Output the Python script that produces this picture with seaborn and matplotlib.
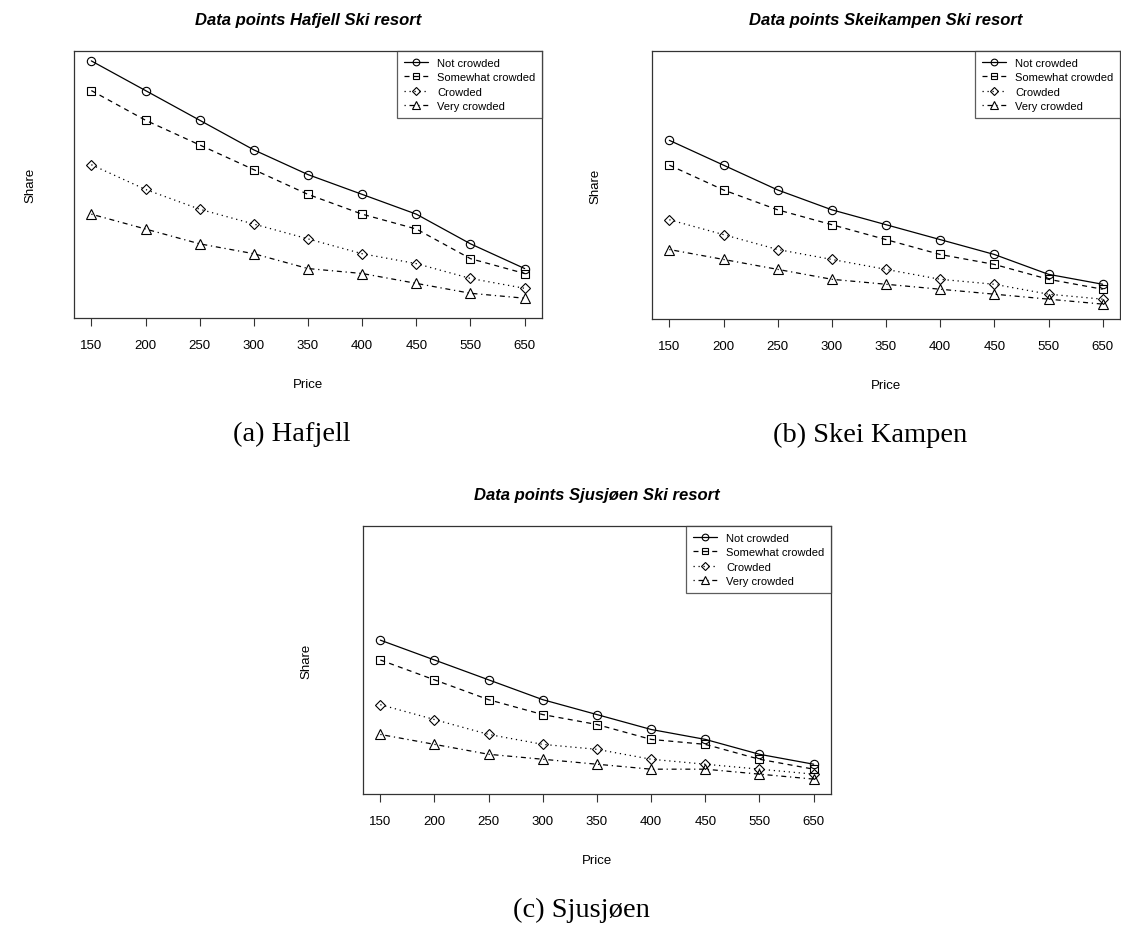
import pandas as pd
import matplotlib
matplotlib.use('Agg')
import matplotlib.pyplot as plt
import seaborn as sns

# price levels (equally spaced categories on the x axis)
prices = ['150', '200', '250', '300', '350', '400', '450', '550', '650']
crowding = ['Not crowded', 'Somewhat crowded', 'Crowded', 'Very crowded']

# Hafjell
hafjell_not = [0.50, 0.44, 0.38, 0.32, 0.27, 0.23, 0.19, 0.13, 0.08]
hafjell_somewhat = [0.44, 0.38, 0.33, 0.28, 0.23, 0.19, 0.16, 0.10, 0.07]
hafjell_crowded = [0.29, 0.24, 0.20, 0.17, 0.14, 0.11, 0.09, 0.06, 0.04]
hafjell_very = [0.19, 0.16, 0.13, 0.11, 0.08, 0.07, 0.05, 0.03, 0.02]

# Skeikampen
skei_not = [0.34, 0.29, 0.24, 0.20, 0.17, 0.14, 0.11, 0.07, 0.05]
skei_somewhat = [0.29, 0.24, 0.20, 0.17, 0.14, 0.11, 0.09, 0.06, 0.04]
skei_crowded = [0.18, 0.15, 0.12, 0.10, 0.08, 0.06, 0.05, 0.03, 0.02]
skei_very = [0.12, 0.10, 0.08, 0.06, 0.05, 0.04, 0.03, 0.02, 0.01]

# Sjusjøen
sjus_not = [0.29, 0.25, 0.21, 0.17, 0.14, 0.11, 0.09, 0.06, 0.04]
sjus_somewhat = [0.25, 0.21, 0.17, 0.14, 0.12, 0.09, 0.08, 0.05, 0.03]
sjus_crowded = [0.16, 0.13, 0.10, 0.08, 0.07, 0.05, 0.04, 0.03, 0.02]
sjus_very = [0.10, 0.08, 0.06, 0.05, 0.04, 0.03, 0.03, 0.02, 0.01]

titles = ['Data points Hafjell Ski resort', 'Data points Skeikampen Ski resort',
          'Data points Sjusjøen Ski resort']
captions = ['(a) Hafjell', '(b) Skei Kampen', '(c) Sjusjøen']
series = [
    [hafjell_not, hafjell_somewhat, hafjell_crowded, hafjell_very],
    [skei_not, skei_somewhat, skei_crowded, skei_very],
    [sjus_not, sjus_somewhat, sjus_crowded, sjus_very],
]

sns.set_style('white')
plt.rcParams['font.family'] = ['Liberation Sans', 'DejaVu Sans']
plt.rcParams['text.color'] = 'black'
plt.rcParams['axes.labelcolor'] = 'black'
plt.rcParams['xtick.color'] = 'black'

W, H = 1121, 928
fig = plt.figure(figsize=(W / 100, H / 100), dpi=100)

# axes boxes in pixels: left, top, right, bottom
boxes = [(74, 52, 542, 319), (652, 52, 1120, 320), (363, 527, 831, 795)]
ylab_off = [44, 57, 57]

markers = {'Not crowded': 'o', 'Somewhat crowded': 's', 'Crowded': 'D', 'Very crowded': '^'}
dashes = {'Not crowded': '', 'Somewhat crowded': (4, 3.5), 'Crowded': (1, 3),
          'Very crowded': (1, 3, 4, 3)}
msizes = {'Not crowded': 6, 'Somewhat crowded': 5.5, 'Crowded': 5.5, 'Very crowded': 6.5}

for i in range(3):
    l, t, r, b = boxes[i]
    ax = fig.add_axes([l / W, 1 - b / H, (r - l) / W, (b - t) / H])

    rows = []
    for name, vals in zip(crowding, series[i]):
        for p, v in zip(prices, vals):
            rows.append({'Price': p, 'Share': v, 'crowd': name})
    df = pd.DataFrame(rows)

    sns.lineplot(data=df, x='Price', y='Share', style='crowd', style_order=crowding,
                 markers=markers, dashes=dashes, color='black', lw=0.9,
                 markersize=6, markerfacecolor='none', markeredgecolor='black',
                 markeredgewidth=0.8, sort=False, legend=False, ax=ax)
    for ln, name in zip(ax.lines, crowding):
        ln.set_markersize(msizes[name])

    leg = ax.legend(ax.lines, crowding, loc='upper right', borderaxespad=0,
                    fontsize=8, frameon=True, fancybox=False, handlelength=2.2,
                    handletextpad=0.8, labelspacing=0.4, borderpad=0.6,
                    markerscale=0.8)
    leg.get_frame().set_edgecolor('#333333')
    leg.get_frame().set_linewidth(0.9)

    ax.set_xlim(-0.32, 8.32)
    ax.set_ylim(-0.02, 0.52)
    ax.set_yticks([])
    ax.tick_params(axis='x', bottom=True, direction='out', length=6,
                   width=0.8, color='#333333', labelsize=9.5, pad=9)
    for sp in ax.spines.values():
        sp.set_color('#333333')
        sp.set_linewidth(0.9)

    ax.set_xlabel('Price', fontsize=9.5)
    ax.xaxis.set_label_coords(0.5, -60 / (b - t))
    ax.set_ylabel('Share', fontsize=9.5)
    ax.yaxis.set_label_coords(-(ylab_off[i] - 6) / (r - l), 0.5)

    ax.text(0.5, 1 + 32 / (b - t), titles[i], transform=ax.transAxes,
            ha='center', va='center', fontsize=12, fontweight='bold',
            fontstyle='italic')

    cx = (l + r) / 2 - 16
    cy = b + 115
    fig.text(cx / W, 1 - cy / H, captions[i], ha='center', va='center',
             fontsize=20.5, family='Liberation Serif')

fig.savefig('out.png', dpi=100)
